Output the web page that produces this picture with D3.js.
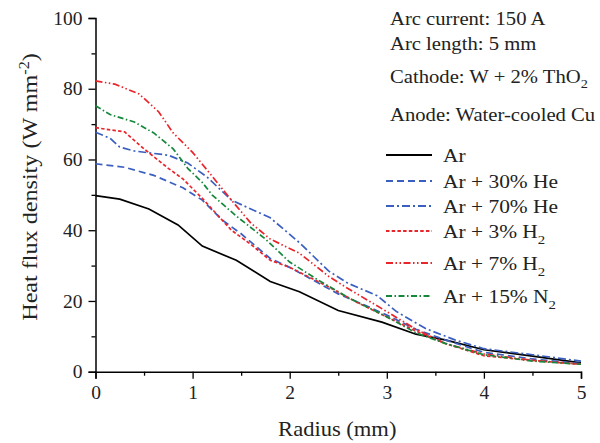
<!DOCTYPE html>
<html>
<head>
<meta charset="utf-8">
<script src="https://cdn.jsdelivr.net/npm/d3@7"></script>
<style>
  body { margin: 0; background: #fff; }
  text { font-family: "Liberation Serif", "DejaVu Serif", serif; fill: #222; }
</style>
</head>
<body>
<svg width="600" height="443"></svg>
<script>
// radius (mm) / heat flux density (W mm^-2)
var ar      = [[0,49.8],[0.25,48.8],[0.55,46],[0.85,41.5],[1.1,35.5],[1.45,31.5],[1.8,25.5],[2.1,22.6],[2.5,17.3],[2.95,14.0],[3.3,10.6],[3.6,9.0],[4.0,6.2],[4.5,4.4],[5,2.5]];
var he30    = [[0,58.8],[0.3,57.8],[0.6,55.5],[0.9,52],[1.1,48.5],[1.3,43],[1.5,39],[1.8,32],[2.0,29.5],[2.3,25],[2.5,22],[2.8,18.5],[3.0,16],[3.3,12],[3.6,9],[4.0,5.5],[4.5,3.6],[5,2.3]];
var he70    = [[0,67.7],[0.15,66],[0.25,63.5],[0.4,62.4],[0.75,61.2],[0.95,59],[1.15,55],[1.4,48.5],[1.6,46],[1.8,43.5],[2.1,36.5],[2.4,28.5],[2.6,25],[2.9,21.5],[3.1,17],[3.4,12.2],[3.7,9],[4.0,6.5],[4.5,4.8],[5,3.0]];
var h2_3    = [[0,69],[0.3,67.8],[0.5,63],[0.75,57.5],[0.9,54.5],[1.1,49],[1.4,40],[1.6,36],[1.8,31.5],[2.0,29.5],[2.4,24],[2.7,19.5],[3.0,15.5],[3.3,11.5],[3.6,8],[4.0,4.5],[4.5,3.2],[5,2.1]];
var h2_7    = [[0,82.2],[0.2,81.3],[0.45,78.5],[0.65,73.5],[0.8,67.5],[1.0,62],[1.15,57],[1.4,48.5],[1.6,42],[1.8,37.5],[2.1,33.5],[2.4,27],[2.6,23.5],[3.0,17],[3.3,12],[3.6,8],[4.0,5],[4.5,3.2],[5,2.1]];
var n2_15   = [[0,75.2],[0.15,72.7],[0.4,70.6],[0.6,67.5],[0.8,63],[0.95,57.5],[1.1,53.5],[1.2,50],[1.45,44],[1.75,37.5],[2.0,31],[2.3,25.8],[2.6,21],[3.0,15.5],[3.3,11],[3.6,8],[4.0,4.8],[4.5,3.0],[5,2.1]];

var seriesNames = ["Ar", "Ar + 30% He", "Ar + 70% He", "Ar + 3% H", "Ar + 7% H", "Ar + 15% N"];
var seriesSubs  = ["", "", "", "2", "2", "2"];
var seriesData  = [ar, he30, he70, h2_3, h2_7, n2_15];
var seriesColors = ["#000000", "#3a5fc0", "#3a5fc0", "#e8252b", "#e8252b", "#15883b"];
var seriesDash  = [null, "7,4", "8,3,2,3", "3.5,2.2", "7,2.5,1.5,2.5,1.5,2.5", "6,2.5,1.5,2.5"];

var xTicks = [0, 1, 2, 3, 4, 5];
var yTicks = [0, 20, 40, 60, 80, 100];

var notes = ["Arc current: 150 A", "Arc length: 5 mm", "Cathode: W + 2% ThO", "Anode: Water-cooled Cu"];
var noteSubs = ["", "", "2", ""];

var margin = {left: 95.5, top: 18, right: 19, bottom: 71.3};
var width = 600 - margin.left - margin.right,
    height = 443 - margin.top - margin.bottom;

var svg = d3.select("svg");
var g = svg.append("g").attr("transform", "translate(" + margin.left + "," + margin.top + ")");

var x = d3.scaleLinear().domain([0, 5]).range([0, width]);
var y = d3.scaleLinear().domain([0, 100]).range([height, 0]);

// computer-modern is a bit wider than Liberation, so stretch text horizontally
function placeText(px, py, k, size, rot) {
  var tr = "translate(" + px + "," + py + ")" + (rot ? " rotate(" + rot + ")" : "") + " scale(" + k + ",1)";
  return svg.append("text").attr("transform", tr).style("font-size", size + "px");
}

// minor ticks first
g.append("g").attr("transform", "translate(0," + height + ")")
  .call(d3.axisBottom(x).tickValues(d3.range(0.5, 5, 1)).tickSize(4).tickFormat(""))
  .call(function(a){ a.select(".domain").remove(); });
g.append("g")
  .call(d3.axisLeft(y).tickValues(d3.range(10, 100, 20)).tickSize(4).tickFormat(""))
  .call(function(a){ a.select(".domain").remove(); });

g.append("g").attr("transform", "translate(0," + height + ")")
  .call(d3.axisBottom(x).tickValues(xTicks).tickSizeOuter(0).tickSize(7).tickPadding(6).tickFormat(d3.format("d")));
g.append("g")
  .call(d3.axisLeft(y).tickValues(yTicks).tickSizeOuter(0).tickSize(7).tickPadding(6));

g.selectAll(".tick line").attr("stroke", "#000").attr("stroke-width", 1.3);
g.selectAll(".domain").attr("stroke", "#000").attr("stroke-width", 1.5);
g.selectAll(".tick text").style("font-family", "Liberation Serif").style("font-size", "19.5px").attr("fill", "#222");

var line = d3.line().x(function(d){ return x(d[0]); }).y(function(d){ return y(d[1]); });

g.selectAll("path.series")
  .data(seriesData)
  .enter().append("path")
  .attr("class", "series")
  .attr("d", line)
  .attr("fill", "none")
  .attr("stroke", function(d, i){ return seriesColors[i]; })
  .attr("stroke-width", 1.7)
  .attr("stroke-dasharray", function(d, i){ return seriesDash[i]; });

// axis labels
placeText(margin.left + width / 2 - 1, 436, 1.1, 20.5)
  .attr("text-anchor", "middle")
  .text("Radius (mm)");

var yl = placeText(37, 187, 1.15, 21, -90).attr("text-anchor", "middle");
yl.append("tspan").text("Heat flux density (W mm");
yl.append("tspan").attr("dy", -8).style("font-size", "14px").text("-2");
yl.append("tspan").attr("dy", 8).text(")");

// notes
var noteY = [25, 50, 83, 121];
notes.forEach(function(t, i){
  var tx = placeText(390, noteY[i], 1.06, 19.5);
  tx.append("tspan").text(t);
  if (noteSubs[i]) tx.append("tspan").attr("dy", 5).style("font-size", "13.5px").text(noteSubs[i]);
});

// legend
var legY = [155, 181, 206, 231, 263, 296];
var leg = svg.append("g");
seriesNames.forEach(function(name, i){
  leg.append("line")
    .attr("x1", 386).attr("x2", 432).attr("y1", legY[i]).attr("y2", legY[i])
    .attr("stroke", seriesColors[i]).attr("stroke-width", 1.8)
    .attr("stroke-dasharray", seriesDash[i]);
  var tx = placeText(443, legY[i] + 7, 1.1, 19.5);
  tx.append("tspan").text(name);
  if (seriesSubs[i]) tx.append("tspan").attr("dy", 6).style("font-size", "13.5px").text(seriesSubs[i]);
});
</script>
</body>
</html>
